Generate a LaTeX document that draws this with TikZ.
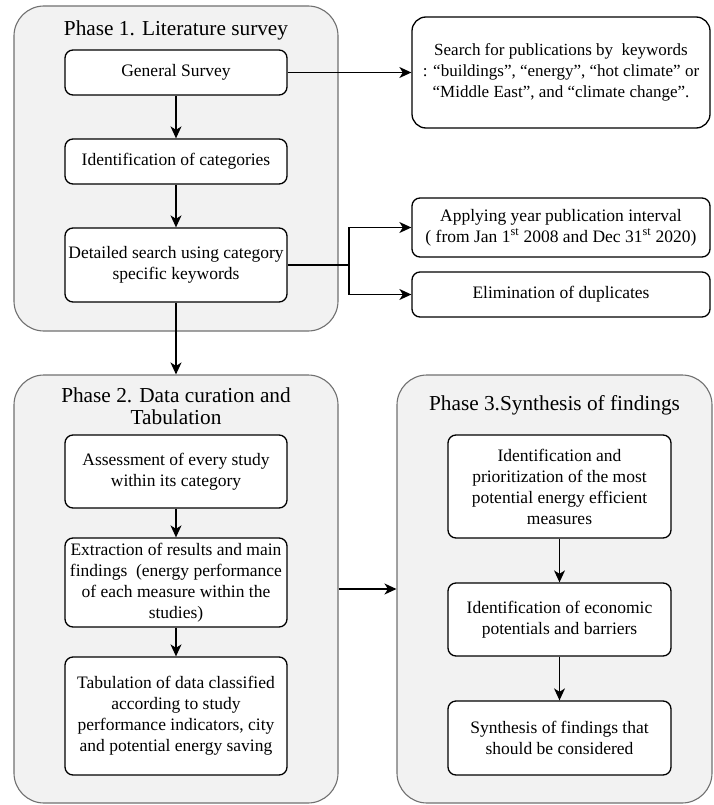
\documentclass[tikz,border=0pt]{standalone}
\usepackage{fontspec}
\setmainfont{LiberationSerif}[Extension=.ttf,UprightFont=*-Regular,BoldFont=*-Bold,ItalicFont=*-Italic,BoldItalicFont=*-BoldItalic]
\usetikzlibrary{arrows.meta}
\definecolor{phasefill}{HTML}{F2F2F2}
\definecolor{phaseline}{HTML}{707070}
\begin{document}
\begin{tikzpicture}[x=1pt,y=-1pt,
  phase/.style={draw=phaseline,fill=phasefill,line width=1.1pt,rounded corners=30pt,inner sep=0pt},
  stepbox/.style={draw=black,fill=white,line width=1.3pt,rounded corners=8pt,inner sep=0pt,align=center,
    font=\rmfamily\fontsize{17.5}{21}\selectfont},
  ttl/.style={inner sep=0pt,align=center,font=\rmfamily\fontsize{21.3}{22.5}\selectfont},
  arr/.style={line width=1.3pt,-{Stealth[length=12pt,width=11pt,inset=3.5pt]}},
  ln/.style={line width=1.3pt}]
\useasboundingbox (0,0) rectangle (714,805);
% containers
\node[phase,minimum width=324pt,minimum height=325pt] (p1) at (176,168.5) {};
\node[phase,minimum width=324pt,minimum height=428pt] (p2) at (176,589) {};
\node[phase,minimum width=315pt,minimum height=428pt] (p3) at (554.5,589) {};
% titles
\node[ttl] (t1) at (176,30) {Phase 1. Literature survey};
\node[ttl] (t2) at (176,406) {Phase 2. Data curation and\\Tabulation};
\node[ttl] (t3) at (554.5,405) {Phase 3.Synthesis of findings};
% phase 1
\node[stepbox,minimum width=222pt,minimum height=45pt] (gen) at (176,72.5) {General Survey};
\node[stepbox,minimum width=222pt,minimum height=45pt] (ident) at (176,161.5) {Identification of categories};
\node[stepbox,minimum width=222pt,minimum height=74pt] (det) at (176,265) {Detailed search using category\\specific keywords};
% right side
\node[stepbox,rounded corners=14pt,minimum width=298pt,minimum height=111pt,font=\rmfamily\fontsize{17}{21}\selectfont] (search) at (561,72.5)
  {Search for publications by\ \ keywords\\: “buildings”, “energy”, “hot climate” or\\“Middle East”, and “climate change”.};
\node[stepbox,minimum width=298pt,minimum height=59pt] (apply) at (561,227.5)
  {Applying year publication interval\\( from Jan 1\textsuperscript{st} 2008 and Dec 31\textsuperscript{st} 2020)};
\node[stepbox,minimum width=298pt,minimum height=45pt] (elim) at (561,294.5) {Elimination of duplicates};
% phase 2
\node[stepbox,minimum width=222pt,minimum height=73pt] (assess) at (176,471.5) {Assessment of every study\\within its category};
\node[stepbox,minimum width=222pt,minimum height=89pt] (extract) at (176,582.5)
  {Extraction of results and main\\findings\ \ (energy performance\\of each measure within the\\studies)};
\node[stepbox,minimum width=222pt,minimum height=118pt] (tab) at (176,716)
  {Tabulation of data classified\\according to study\\performance indicators, city\\and potential energy saving};
% phase 3
\node[stepbox,minimum width=223pt,minimum height=103pt] (idp) at (559.5,486.5)
  {Identification and\\prioritization of the most\\potential energy efficient\\measures};
\node[stepbox,minimum width=223pt,minimum height=73pt] (econ) at (559.5,619.5)
  {Identification of economic\\potentials and barriers};
\node[stepbox,minimum width=223pt,minimum height=74pt] (synth) at (559.5,738)
  {Synthesis of findings that\\should be considered};
% connectors
\coordinate (j) at (349,265);
\draw[arr] (gen.east) -- (search.west);
\draw[arr] (gen.south) -- (ident.north);
\draw[arr] (ident.south) -- (det.north);
\draw[ln] (det.east) -- (j);
\draw[arr] (j) |- (apply.west);
\draw[arr] (j) |- (elim.west);
\draw[arr] (det.south) -- (p2.north);
\draw[arr] (assess.south) -- (extract.north);
\draw[arr] (extract.south) -- (tab.north);
\draw[arr] (p2.east) -- (p3.west);
\draw[arr] (idp.south) -- (econ.north);
\draw[arr] (econ.south) -- (synth.north);
\end{tikzpicture}
\end{document}
